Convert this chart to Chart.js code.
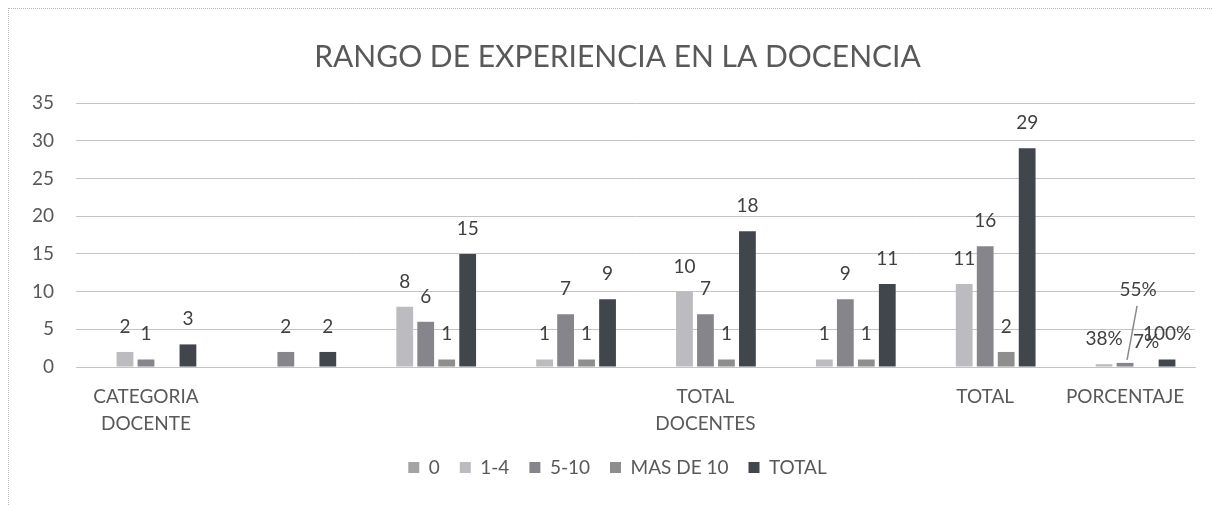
<!DOCTYPE html>
<html lang="es">
<head>
  <meta charset="UTF-8">
  <title>Rango de experiencia en la docencia</title>
  <script src="https://cdn.jsdelivr.net/npm/chart.js"></script>
  <style>
    html, body {
      margin: 0;
      padding: 0;
      background: #fff;
    }
    #wrap {
      position: relative;
      width: 1212px;
      height: 505px;
    }
    #frame {
      position: absolute;
      left: 8px;
      top: 8px;
      right: 0;
      bottom: 0;
      border-left: 1px dotted #b5b5b5;
      border-top: 1px dotted #b5b5b5;
      pointer-events: none;
    }
  </style>
</head>
<body>
  <div id="wrap">
    <canvas id="expChart" width="1212" height="505"></canvas>
    <div id="frame"></div>
  </div>

  <script>
    // categorias del eje x (solo algunas llevan texto)
    var categorias = [
      ['CATEGORIA', 'DOCENTE'], '', '', '', ['TOTAL', 'DOCENTES'], '', 'TOTAL', 'PORCENTAJE'
    ];

    // docentes por rango de años de experiencia
    var rango0      = [null, null, null, null, null, null, null, null];
    var rango1a4    = [2, null, 8, 1, 10, 1, 11, 0.38];
    var rango5a10   = [1, 2, 6, 7, 7, 9, 16, 0.55];
    var masDe10     = [null, null, 1, 1, 1, 1, 2, 0.07];
    var totalFila   = [3, 2, 15, 9, 18, 11, 29, 1];

    var yTicks = [0, 5, 10, 15, 20, 25, 30, 35];

    var fuente = 'Lato, "Open Sans", sans-serif';

    // etiquetas de valor encima de cada barra
    var etiquetasPlugin = {
      id: 'etiquetas',
      afterDatasetsDraw: function(chart) {
        var ctx = chart.ctx;
        ctx.save();
        ctx.font = '19px ' + fuente;
        ctx.fillStyle = '#404040';
        ctx.textAlign = 'center';
        ctx.textBaseline = 'alphabetic';
        chart.data.datasets.forEach(function(ds, di) {
          var meta = chart.getDatasetMeta(di);
          meta.data.forEach(function(bar, i) {
            var v = ds.data[i];
            if (v === null || v === undefined) return;
            var txt = categorias[i] === 'PORCENTAJE' ? Math.round(v * 100) + '%' : String(v);
            var shift = (ds.labelShift && ds.labelShift[i]) || [0, 0];
            var x = bar.x + shift[0];
            var y = bar.y - 19 + shift[1];
            if (shift[1] !== 0) {
              // linea guia hasta la barra
              ctx.strokeStyle = '#8a8a8a';
              ctx.lineWidth = 1.5;
              ctx.beginPath();
              ctx.moveTo(x - 1, y + 10);
              ctx.lineTo(bar.x + 2, bar.y - 3);
              ctx.stroke();
            }
            ctx.fillText(txt, x, y);
          });
        });
        ctx.restore();
      }
    };

    // titulo y leyenda algo corridos a la derecha
    var centradoPlugin = {
      id: 'centrado',
      afterLayout: function(chart) {
        [chart.titleBlock, chart.legend].forEach(function(box) {
          if (!box) return;
          box.left += 15;
          box.right += 15;
        });
      }
    };

    var ctx = document.getElementById('expChart').getContext('2d');

    var chart = new Chart(ctx, {
      type: 'bar',
      data: {
        labels: categorias,
        datasets: [
          { label: '0', data: rango0, backgroundColor: '#a3a3a6' },
          { label: '1-4', data: rango1a4, backgroundColor: '#bbbbc0' },
          { label: '5-10', data: rango5a10, backgroundColor: '#85858b', labelShift: { 7: [13, -48] } },
          { label: 'MAS DE 10', data: masDe10, backgroundColor: '#8e8e8e' },
          { label: 'TOTAL', data: totalFila, backgroundColor: '#41454c' }
        ]
      },
      options: {
        responsive: false,
        animation: false,
        layout: {
          padding: { left: 10, right: 17, top: 39, bottom: 18 }
        },
        datasets: {
          bar: {
            categoryPercentage: 0.75,
            barPercentage: 0.8
          }
        },
        scales: {
          x: {
            grid: { display: false },
            border: { color: '#c4c4c8', width: 1 },
            ticks: {
              color: '#595959',
              font: { family: fuente, size: 19, lineHeight: 1.42 },
              maxRotation: 0,
              autoSkip: false,
              padding: 8
            },
            afterFit: function(axis) {
              axis.height -= 7;
            }
          },
          y: {
            min: 0,
            max: 35,
            afterBuildTicks: function(axis) {
              axis.ticks = yTicks.map(function(v) { return { value: v }; });
            },
            grid: {
              color: '#c4c4c8',
              lineWidth: 1,
              drawTicks: false
            },
            border: { display: false },
            ticks: {
              color: '#595959',
              font: { family: fuente, size: 19 },
              padding: 22
            }
          }
        },
        plugins: {
          title: {
            display: true,
            text: 'RANGO DE EXPERIENCIA EN LA DOCENCIA',
            color: '#595959',
            font: { family: fuente, size: 30, weight: 'normal' },
            padding: { top: 0, bottom: 28 }
          },
          legend: {
            position: 'bottom',
            labels: {
              color: '#595959',
              font: { family: fuente, size: 19 },
              boxWidth: 11,
              boxHeight: 11,
              padding: 20
            }
          },
          tooltip: { enabled: false }
        }
      },
      plugins: [etiquetasPlugin, centradoPlugin]
    });
  </script>
</body>
</html>
